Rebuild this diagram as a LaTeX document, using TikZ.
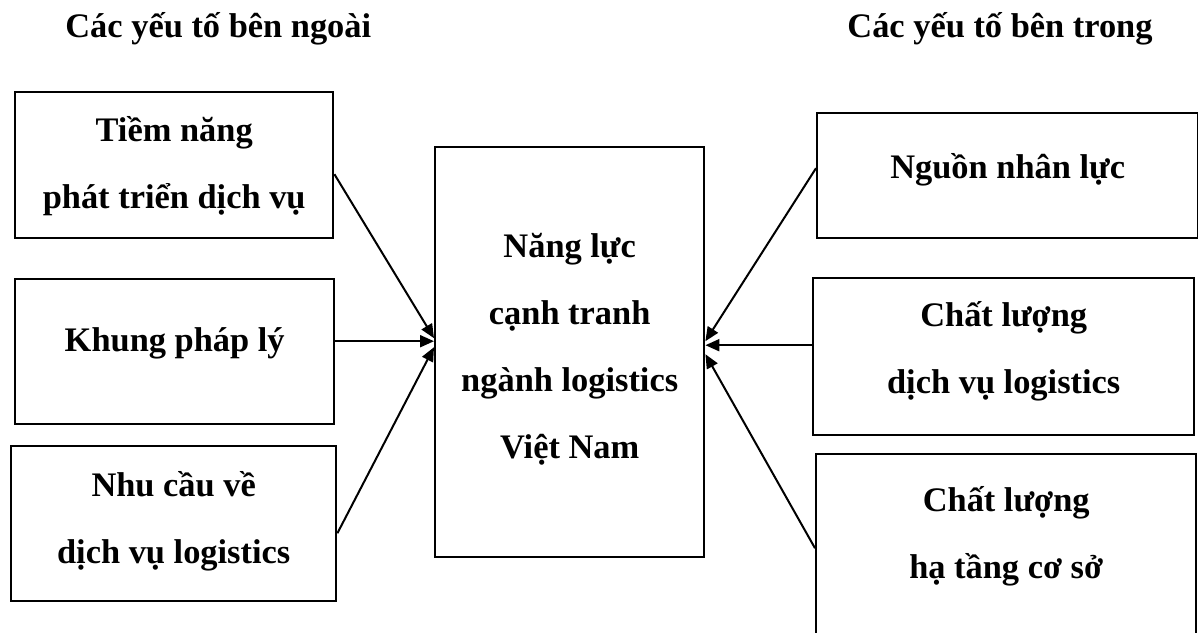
\documentclass[tikz,border=0pt]{standalone}
\usepackage{fontspec}
\setmainfont{Liberation Serif}
\usetikzlibrary{arrows.meta,positioning,calc}

\begin{document}
\begin{tikzpicture}[x=0.5pt, y=-0.5pt,
  font=\fontsize{17.2}{33.5}\selectfont\bfseries, >={Triangle[length=7pt,width=6pt]},
  box/.style={draw, line width=1.2pt, inner xsep=0pt, inner ysep=0pt, anchor=north west, align=center},
  link/.style={->, line width=1pt}]
\useasboundingbox (0,0) rectangle (1198,632);
% tieu de hai cot
\node[anchor=base west, inner sep=0pt] (ngoai) at (65,37) {Các yếu tố bên ngoài};
\node[anchor=base west, inner sep=0pt] (trong) at (847,37) {Các yếu tố bên trong};
% yeu to ben ngoai
\node[box, minimum width=159pt, text height=58pt, text depth=15pt] (tiemnang) at (14,91) {Tiềm năng\\phát triển dịch vụ};
\node[box, minimum width=159.5pt, text height=36pt, text depth=36.5pt] (phaply) at (14,278) {Khung pháp lý};
\node[box, minimum width=162.5pt, text height=58.5pt, text depth=19pt] (nhucau) at (10,445) {Nhu cầu về\\dịch vụ logistics};
% trung tam
\node[box, minimum width=134.5pt, text height=155.5pt, text depth=49.5pt] (nangluc) at (434,146) {Năng lực\\cạnh tranh\\ngành logistics\\Việt Nam};
% yeu to ben trong
\node[box, minimum width=190.5pt, text height=32.5pt, text depth=30pt] (nhanluc) at (816,112) {Nguồn nhân lực};
\node[box, minimum width=190.5pt, text height=57.5pt, text depth=21pt] (cldichvu) at (812,277) {Chất lượng\\dịch vụ logistics};
\node[box, minimum width=190pt, text height=62pt, text depth=29pt] (clhatang) at (815,453) {Chất lượng\\hạ tầng cơ sở};
% mui ten
\draw[link] ([yshift=-4.5pt]tiemnang.east) -- ([yshift=7pt]nangluc.west);
\draw[link] ([yshift=5.25pt]phaply.east) -- ([yshift=5.5pt]nangluc.west);
\draw[link] ([yshift=-4.75pt]nhucau.east) -- ([yshift=2.5pt]nangluc.west);
\draw[link] ([yshift=3.75pt]nhanluc.west) -- ([yshift=5.5pt]nangluc.east);
\draw[link] ([yshift=5.75pt]cldichvu.west) -- ([yshift=3.5pt]nangluc.east);
\draw[link] ([yshift=-1.5pt]clhatang.west) -- ([yshift=-1pt]nangluc.east);
\end{tikzpicture}
\end{document}
